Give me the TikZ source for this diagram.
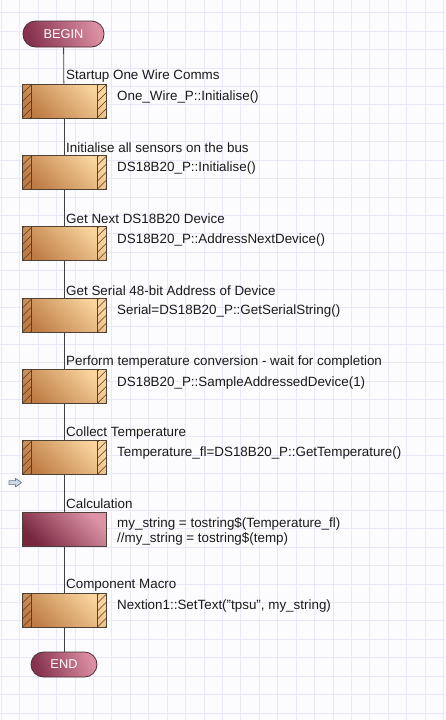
\documentclass[tikz,border=0pt]{standalone}
\usepackage{fontspec}
\setmainfont{Liberation Sans}
\definecolor{bgcol}{HTML}{FCFCFE}
\definecolor{gridcol}{HTML}{E9E8F8}
\definecolor{procdark}{HTML}{BE7C44}
\definecolor{proclight}{HTML}{F9D49E}
\definecolor{procborder}{HTML}{4E4236}
\definecolor{calcdark}{HTML}{782640}
\definecolor{calclight}{HTML}{DC93A6}
\definecolor{termdark}{HTML}{87324F}
\definecolor{termlight}{HTML}{DB8FA2}
\definecolor{termborder}{HTML}{4A3038}
\definecolor{hatchcol}{HTML}{5A3A1E}
\definecolor{txtcol}{HTML}{1A1A1A}
\definecolor{markfill}{HTML}{D2D9E6}
\definecolor{markdraw}{HTML}{66768C}
\begin{document}
\begin{tikzpicture}[x=1pt,y=-1pt,
  gridline/.style={draw=gridcol, line width=0.9pt},
  flow/.style={draw=black!75, line width=0.8pt},
  term/.style={draw=termborder, line width=0.8pt, rounded corners=12.5pt,
     bottom color=termdark, top color=termlight, shading angle=-70,
     text=white!95!pink, font=\fontsize{12.8}{14}\selectfont, inner sep=0pt},
  proc/.style={draw=procborder, line width=0.8pt, minimum width=84pt, minimum height=34pt,
     inner sep=0pt, bottom color=procdark, top color=proclight, shading angle=-45,
     path picture={
       \foreach \k in {-2,...,5}{
         \draw[hatchcol, line width=0.6pt] ([yshift=\k*8pt]path picture bounding box.south west) -- ++(9pt,9pt);
         \draw[hatchcol, line width=0.6pt] ([xshift=-9pt,yshift=\k*8pt]path picture bounding box.south east) -- ++(9pt,9pt);
       }
       \draw[procborder, line width=0.8pt] ([xshift=9pt]path picture bounding box.south west) -- ([xshift=9pt]path picture bounding box.north west);
       \draw[procborder, line width=0.8pt] ([xshift=-9pt]path picture bounding box.south east) -- ([xshift=-9pt]path picture bounding box.north east);
     }},
  calc/.style={draw=procborder, line width=0.8pt, minimum width=84pt, minimum height=34pt,
     inner sep=0pt, bottom color=calcdark, top color=calclight, shading angle=-45},
  lbl/.style={anchor=west, inner sep=0pt, text=txtcol, font=\fontsize{13.4}{15}\selectfont, yshift=-1.3pt},
  code/.style={anchor=west, inner sep=0pt, text=txtcol, font=\fontsize{13.4}{15}\selectfont, align=left, yshift=-1pt},
  markstyle/.style={draw=markdraw, fill=markfill, line width=0.7pt, line join=round}
]
\useasboundingbox (0,0) rectangle (445,720);
\fill[bgcol] (0,0) rectangle (445,720);
\foreach \i in {0,...,24} \draw[gridline] ({1.3+18.43*\i},0) -- ++(0,720);
\foreach \j in {0,...,38} \draw[gridline] (0,{12.7+18.43*\j}) -- ++(445,0);

% terminals
\node[term, minimum width=81pt, minimum height=26pt] (begin) at (63.5,34) {BEGIN};
\node[term, minimum width=66pt, minimum height=25pt] (end) at (64,664.5) {END};

% process boxes
\node[proc] (p1) at (64,101) {};
\node[proc] (p2) at (64,172.5) {};
\node[proc] (p3) at (64,243.7) {};
\node[proc] (p4) at (64,315.5) {};
\node[proc] (p5) at (64,386.7) {};
\node[proc] (p6) at (64,457.7) {};
\node[calc] (p7) at (64,529.4) {};
\node[proc] (p8) at (64,610.5) {};

% connectors
\draw[flow] (begin) -- (p1);
\draw[flow] (p1) -- (p2);
\draw[flow] (p2) -- (p3);
\draw[flow] (p3) -- (p4);
\draw[flow] (p4) -- (p5);
\draw[flow] (p5) -- (p6);
\draw[flow] (p6) -- (p7);
\draw[flow] (p7) -- (p8);
\draw[flow] (p8) -- (end);

% labels
\node[lbl] (l1) at (66,74.8) {Startup One Wire Comms};
\node[lbl] (l2) at (66,146.3) {Initialise all sensors on the bus};
\node[lbl] (l3) at (66,217.5) {Get Next DS18B20 Device};
\node[lbl] (l4) at (66,289.3) {Get Serial 48-bit Address of Device};
\node[lbl] (l5) at (66,360.5) {Perform temperature conversion - wait for completion};
\node[lbl] (l6) at (66,431.5) {Collect Temperature};
\node[lbl] (l7) at (66,502.7) {Calculation};
\node[lbl] (l8) at (66,584.3) {Component Macro};

% code texts
\node[code] (c1) at (117,96) {One\_Wire\_P::Initialise()};
\node[code] (c2) at (117,167.5) {DS18B20\_P::Initialise()};
\node[code] (c3) at (117,238.7) {DS18B20\_P::AddressNextDevice()};
\node[code] (c4) at (117,310.5) {Serial=DS18B20\_P::GetSerialString()};
\node[code] (c5) at (117,381.7) {DS18B20\_P::SampleAddressedDevice(1)};
\node[code] (c6) at (117,452.5) {Temperature\_fl=DS18B20\_P::GetTemperature()};
\node[code] (c7a) at (117,523.3) {my\_string = tostring\$(Temperature\_fl)};
\node[code] (c7b) at (117,537.8) {//my\_string = tostring\$(temp)};
\node[code] (c8) at (117,605) {Nextion1::SetText("tpsu", my\_string)};

% marker arrow
\draw[markstyle] (9,480.6) -- (15.5,480.6) -- (15.5,478.3) -- (21.5,482.6) -- (15.5,486.9) -- (15.5,484.6) -- (9,484.6) -- cycle;
\end{tikzpicture}
\end{document}
